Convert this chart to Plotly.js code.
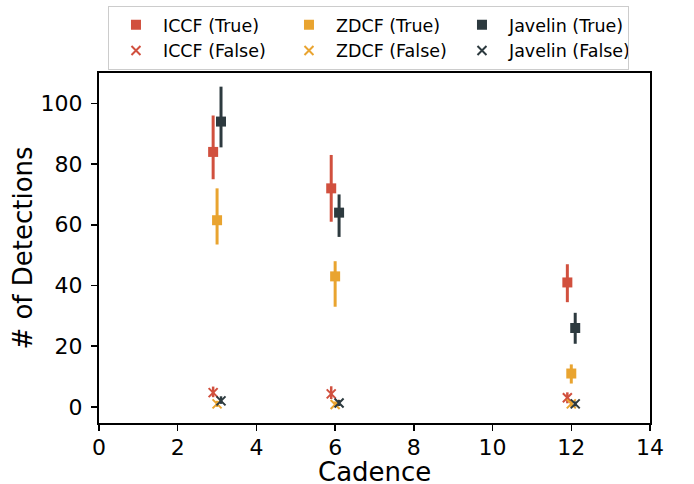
<!DOCTYPE html>
<html>
<head>
<meta charset="utf-8">
<script src="https://cdn.plot.ly/plotly-3.0.1.min.js"></script>
<style>html,body{margin:0;padding:0;background:#fff;}</style>
</head>
<body>
<div id="chart" style="width:694px;height:484px;"></div>
<script>
// Data
const iccfX = [2.9, 5.9, 11.9];
const zdcfX = [3.0, 6.0, 12.0];
const javX  = [3.1, 6.1, 12.1];

const iccfTrue = [84, 72, 41];
const iccfTrueUp = [12, 11, 6];
const iccfTrueDn = [9, 11, 6.5];
const zdcfTrue = [61.5, 43, 11];
const zdcfTrueUp = [10.5, 5, 3];
const zdcfTrueDn = [8, 10, 3.3];
const javTrue = [94, 64, 26];
const javTrueUp = [11.5, 6, 5];
const javTrueDn = [8.5, 8, 5.2];

const iccfFalse = [4.7, 4.3, 3];
const iccfFalseUp = [2, 2.5, 1.8];
const iccfFalseDn = [1.5, 1.7, 1.8];
const zdcfFalse = [1, 0.8, 1];
const zdcfFalseUp = [1, 1, 1];
const zdcfFalseDn = [1, 0.8, 1];
const javFalse = [2, 1.3, 1];
const javFalseUp = [1.5, 1, 0.8];
const javFalseDn = [1, 1, 0.8];

const names = ['ICCF (True)', 'ZDCF (True)', 'Javelin (True)', 'ICCF (False)', 'ZDCF (False)', 'Javelin (False)'];
const xTitle = 'Cadence';
const yTitle = '# of Detections';
const colors = {iccf: '#d1503e', zdcf: '#e9a430', jav: '#2d3a3f'};

function trueTrace(name, x, y, up, dn, c) {
  return {type: 'scatter', mode: 'markers', name: name, x: x, y: y,
    marker: {symbol: 'square', size: 10, color: c},
    error_y: {type: 'data', array: up, arrayminus: dn, color: c, thickness: 3, width: 0}};
}
function falseTrace(name, x, y, up, dn, c) {
  return {type: 'scatter', mode: 'markers', name: name, x: x, y: y,
    marker: {symbol: 'x-thin', size: 9, color: c, line: {color: c, width: 2}},
    error_y: {type: 'data', array: up, arrayminus: dn, color: c, thickness: 2.5, width: 0}};
}

const data = [
  trueTrace(names[0], iccfX, iccfTrue, iccfTrueUp, iccfTrueDn, colors.iccf),
  trueTrace(names[1], zdcfX, zdcfTrue, zdcfTrueUp, zdcfTrueDn, colors.zdcf),
  trueTrace(names[2], javX, javTrue, javTrueUp, javTrueDn, colors.jav),
  falseTrace(names[3], iccfX, iccfFalse, iccfFalseUp, iccfFalseDn, colors.iccf),
  falseTrace(names[4], zdcfX, zdcfFalse, zdcfFalseUp, zdcfFalseDn, colors.zdcf),
  falseTrace(names[5], javX, javFalse, javFalseUp, javFalseDn, colors.jav)
];

const layout = {
  width: 694, height: 484,
  margin: {l: 99, r: 44, t: 72.5, b: 60.5, autoexpand: false},
  paper_bgcolor: '#fff', plot_bgcolor: '#fff',
  font: {family: 'DejaVu Sans', color: '#000'},
  showlegend: true,
  legend: {orientation: 'h', x: 0.0163, xanchor: 'left', y: 1.192, yanchor: 'top',
    entrywidth: 114, itemwidth: 44, font: {size: 17.5, family: 'DejaVu Sans'},
    bordercolor: '#cccccc', borderwidth: 1, bgcolor: '#fff', tracegroupgap: 0},
  xaxis: {range: [0, 14], tickvals: [0, 2, 4, 6, 8, 10, 12, 14],
    ticks: 'outside', ticklen: 6, tickwidth: 1.5, tickcolor: '#000',
    showline: true, linecolor: '#000', linewidth: 2, mirror: true,
    showgrid: false, zeroline: false, tickfont: {size: 22}, ticklabelstandoff: -2},
  yaxis: {range: [-5.3, 110], tickvals: [0, 20, 40, 60, 80, 100],
    ticks: 'outside', ticklen: 6, tickwidth: 1.5, tickcolor: '#000',
    showline: true, linecolor: '#000', linewidth: 2, mirror: true,
    showgrid: false, zeroline: false, tickfont: {size: 22}, ticklabelstandoff: 4,
    title: {text: yTitle, font: {size: 26}, standoff: 0}},
  annotations: [{text: xTitle, xref: 'paper', yref: 'paper', x: 0.5, y: 0,
    xanchor: 'center', yanchor: 'middle', yshift: -49, showarrow: false,
    font: {size: 26, family: 'DejaVu Sans', color: '#000'}}]
};

Plotly.newPlot('chart', data, layout, {displayModeBar: false, staticPlot: true});
</script>
</body>
</html>
